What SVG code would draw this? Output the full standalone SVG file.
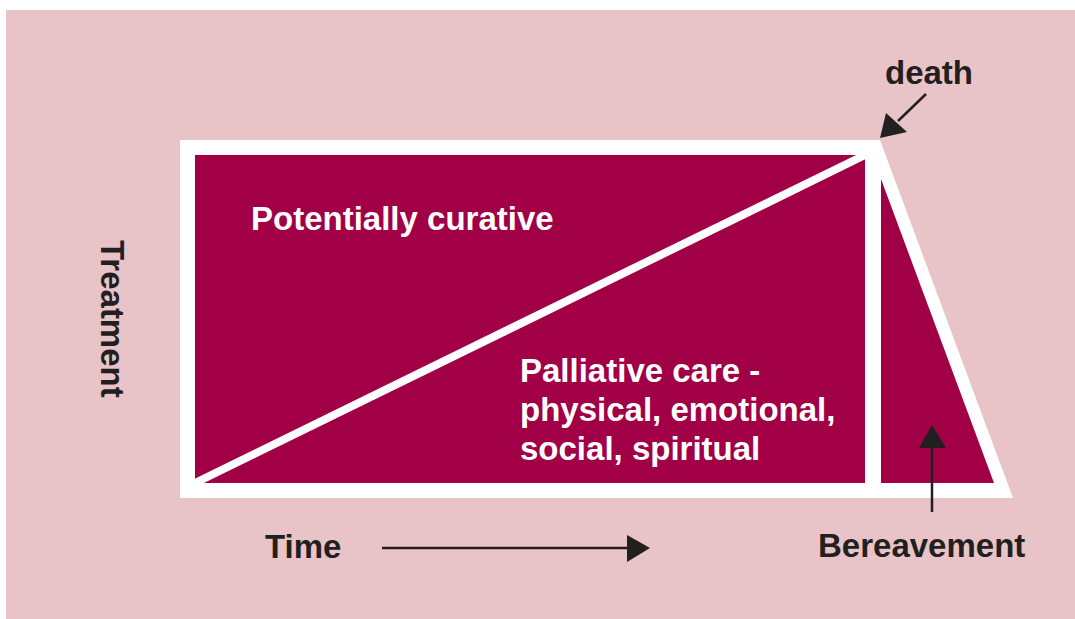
<svg xmlns="http://www.w3.org/2000/svg" width="1075" height="619" viewBox="0 0 1075 619">
  <defs>
    <style>
      .lbl { font-family: "Liberation Sans", Arial, sans-serif; font-weight: bold; font-size: 33px; }
      .dark { fill: #231F20; }
      .light { fill: #FFFFFF; }
      .conn { stroke: #231F20; stroke-width: 2.5; fill: none; }
      .head { fill: #231F20; }
      .mag { fill: #A20046; }
    </style>
  </defs>
  <rect x="0" y="0" width="1075" height="619" fill="#FFFFFF"/>
  <rect x="6" y="10" width="1069" height="609" fill="#E8C4C8"/>

  <g id="frame">
    <polygon points="180,140 880,140 1013,498 180,498" fill="#FFFFFF"/>
  </g>
  <g id="treatment-area">
    <rect class="mag" x="195" y="155" width="670" height="328"/>
    <line x1="195" y1="483" x2="865" y2="155" stroke="#FFFFFF" stroke-width="8"/>
    <text class="lbl light" x="251" y="230">Potentially curative</text>
    <text class="lbl light" x="520" y="382">Palliative care -</text>
    <text class="lbl light" x="520" y="421">physical, emotional,</text>
    <text class="lbl light" x="520" y="460">social, spiritual</text>
  </g>
  <g id="bereavement-area">
    <polygon class="mag" points="881,179 881,483 994,483"/>
  </g>

  <g id="labels">
    <text class="lbl dark" transform="translate(101,240) rotate(90)">Treatment</text>
    <text class="lbl dark" x="265" y="558">Time</text>
    <text class="lbl dark" x="818" y="557">Bereavement</text>
    <text class="lbl dark" x="885" y="84">death</text>
  </g>

  <g id="connectors">
    <line class="conn" x1="382" y1="548" x2="630" y2="548"/>
    <polygon class="head" points="650,548 627,535 627,562"/>
    <line class="conn" x1="926" y1="94" x2="898" y2="121"/>
    <polygon class="head" points="880,138 886,113 907,132"/>
    <line class="conn" x1="932" y1="512" x2="932" y2="446"/>
    <polygon class="head" points="932,425 919,448 946,448"/>
  </g>
</svg>
